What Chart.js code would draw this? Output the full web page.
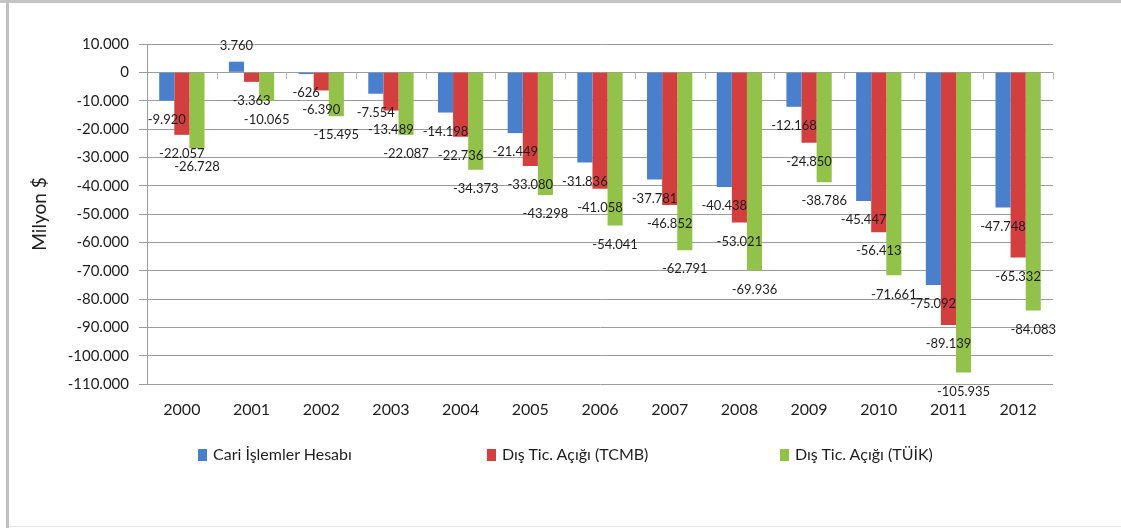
<!DOCTYPE html>
<html lang="tr">
<head>
<meta charset="utf-8">
<script src="https://cdn.jsdelivr.net/npm/chart.js@4.4.1/dist/chart.umd.min.js"></script>
<style>
  html, body { margin:0; padding:0; background:#fff; }
  #wrap { position:relative; width:1121px; height:528px; overflow:hidden; background:#fff; }
  #frameTop { position:absolute; left:0; top:0; width:1121px; height:3px; background:#c4c4c4; }
  #frameLeft { position:absolute; left:6px; top:0; width:3px; height:528px; background:#c0c0c0; }
  #frameBot { position:absolute; left:9px; top:526px; width:1112px; height:1px; background:#e6e6e6; }
  #cv { position:absolute; left:0; top:0; }
  .lg { position:absolute; top:445px; font-family:Lato, sans-serif; font-size:16px; color:#1e1e1e; white-space:nowrap; line-height:18px; }
  .lg i { display:inline-block; width:9px; height:12px; margin-right:6px; vertical-align:-1px; }
</style>
</head>
<body>
<div id="wrap">
  <canvas id="cv" width="1121" height="528"></canvas>
  <div id="frameTop"></div>
  <div id="frameLeft"></div>
  <div id="frameBot"></div>
  <div id="legend"></div>
</div>
<script>
// veriler (milyon $)
const years  = ['2000','2001','2002','2003','2004','2005','2006','2007','2008','2009','2010','2011','2012'];
const cari   = [-9920, 3760, -626, -7554, -14198, -21449, -31836, -37781, -40438, -12168, -45447, -75092, -47748];
const tcmb   = [-22057, -3363, -6390, -13489, -22736, -33080, -41058, -46852, -53021, -24850, -56413, -89139, -65332];
const tuik   = [-26728, -10065, -15495, -22087, -34373, -43298, -54041, -62791, -69936, -38786, -71661, -105935, -84083];
const seriesNames = ['Cari İşlemler Hesabı', 'Dış Tic. Açığı (TCMB)', 'Dış Tic. Açığı (TÜİK)'];
const yTicks = [10000, 0, -10000, -20000, -30000, -40000, -50000, -60000, -70000, -80000, -90000, -100000, -110000];

const COLORS = ['#4a7fcb', '#d33f3e', '#93c24a'];
const FONT = 'Lato, sans-serif';
const TXT = '#1e1e1e';

// 10000 -> "10.000"
function fmt(v) {
  const s = Math.abs(v).toString().replace(/\B(?=(\d{3})+(?!\d))/g, '.');
  return (v < 0 ? '-' : '') + s;
}

// bar etiketleri: negatifte çubuk ucunun altında, pozitifte üstünde
const barLabels = {
  id: 'barLabels',
  afterDatasetsDraw(chart) {
    const { ctx } = chart;
    ctx.save();
    ctx.font = '13px ' + FONT;
    ctx.fillStyle = TXT;
    ctx.textAlign = 'center';
    ctx.textBaseline = 'middle';
    chart.data.datasets.forEach((ds, i) => {
      chart.getDatasetMeta(i).data.forEach((el, j) => {
        const v = ds.data[j];
        const y = v < 0 ? el.y + 19 : el.y - 16;
        ctx.fillText(fmt(v), el.x, y);
      });
    });
    ctx.restore();
  }
};

// sıfır çizgisinde kategori ayırıcı küçük çentikler
const zeroTicks = {
  id: 'zeroTicks',
  afterDraw(chart) {
    const { ctx, chartArea: { left, right } } = chart;
    const y0 = chart.scales.y.getPixelForValue(0);
    const step = (right - left) / years.length;
    ctx.save();
    ctx.strokeStyle = '#b5b5b5';
    ctx.lineWidth = 1;
    for (let k = 1; k <= years.length; k++) {
      const x = Math.round(left + k * step) + 0.5;
      ctx.beginPath();
      ctx.moveTo(x, y0);
      ctx.lineTo(x, y0 + 7);
      ctx.stroke();
    }
    ctx.restore();
  }
};

new Chart(document.getElementById('cv'), {
  type: 'bar',
  plugins: [barLabels, zeroTicks],
  data: {
    labels: years,
    datasets: [cari, tcmb, tuik].map((d, i) => ({
      label: seriesNames[i],
      data: d,
      backgroundColor: COLORS[i],
      borderWidth: 0,
      categoryPercentage: 0.65,
      barPercentage: 1
    }))
  },
  options: {
    responsive: false,
    animation: false,
    layout: { padding: { left: 18, top: 44, right: 68, bottom: 100 } },
    plugins: { legend: { display: false }, tooltip: { enabled: false } },
    scales: {
      x: {
        grid: { display: false, drawTicks: false },
        border: { display: false },
        ticks: { color: TXT, font: { family: FONT, size: 16 }, padding: 16, maxRotation: 0 },
        afterFit(s) { s.height = 44; }
      },
      y: {
        min: -110000,
        max: 10000,
        afterBuildTicks(s) { s.ticks = yTicks.map(v => ({ value: v })); },
        grid: { color: '#9c9c9c', lineWidth: 1, tickLength: 8 },
        border: { display: true, color: '#9c9c9c' },
        ticks: { color: TXT, font: { family: FONT, size: 15 }, padding: 10, callback: v => fmt(v) },
        title: { display: true, text: 'Milyon $', color: TXT, font: { family: FONT, size: 19 }, padding: { top: 10, bottom: 0 } },
        afterFit(s) { s.width = 129; }
      }
    }
  }
});

// lejant (Excel yerleşimi gibi serbest aralıklı)
const legendX = [198, 487, 780];
document.getElementById('legend').innerHTML = seriesNames.map((n, i) =>
  `<div class="lg" style="left:${legendX[i]}px"><i style="background:${COLORS[i]}"></i>${n}</div>`
).join('');
</script>
</body>
</html>
